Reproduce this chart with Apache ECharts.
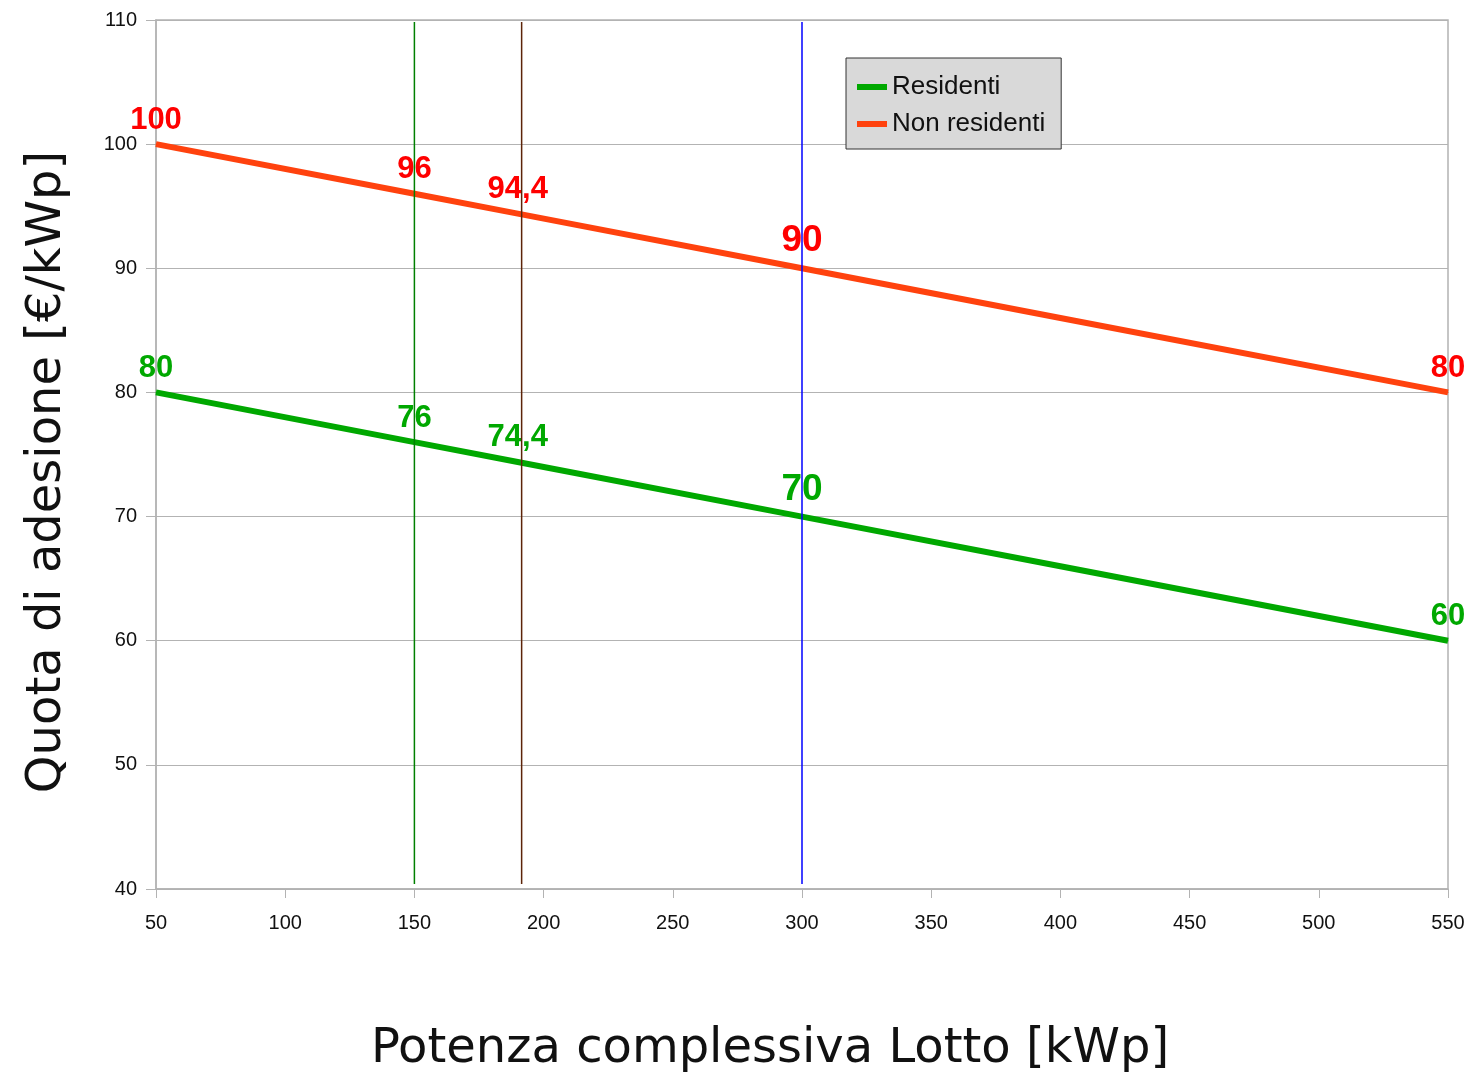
<!DOCTYPE html>
<html>
<head>
<meta charset="utf-8">
<script src="https://cdn.jsdelivr.net/npm/echarts@6/dist/echarts.min.js"></script>
<style>
  html, body { margin: 0; padding: 0; background: #fff; }
  #chart { width: 1470px; height: 1073px; }
</style>
</head>
<body>
<div id="chart"></div>
<script>
var potenza = [50, 150, 190, 300, 400, 550]
var residenti = [80, 76, 74.4, 70, 66, 60]
var nonResidenti = [100, 96, 94.4, 90, 86, 80]
// punti con etichetta (indice) e quelli evidenziati con font grande
var labelled = [0, 1, 2, 3, 5]
var big = [3]
// linee verticali di riferimento
var soglie = [150, 191.5, 300]
var sogliaColori = ['#008000', '#5c2408', '#0000ff']
var sogliaY = [40.4, 109.84]

var chart = echarts.init(document.getElementById('chart'))

function serie(values) {
  return values.map(function (v, i) {
    return {
      value: [potenza[i], v],
      label: {
        show: labelled.indexOf(i) >= 0,
        fontSize: big.indexOf(i) >= 0 ? 37 : 31
      }
    }
  })
}

function labelFmt(p) {
  return String(p.value[1]).replace('.', ',')
}

var series = [
  {
    name: 'Residenti',
    type: 'line',
    data: serie(residenti),
    symbol: 'circle',
    symbolSize: 1,
    showSymbol: true,
    lineStyle: { width: 6, color: '#00a800' },
    itemStyle: { color: '#00a800' },
    label: {
      position: 'top',
      distance: 8,
      color: '#00a800',
      fontWeight: 'bold',
      fontFamily: 'Liberation Sans',
      formatter: labelFmt
    },
    z: 5
  },
  {
    name: 'Non residenti',
    type: 'line',
    data: serie(nonResidenti),
    symbol: 'circle',
    symbolSize: 1,
    showSymbol: true,
    lineStyle: { width: 6, color: '#ff420e' },
    itemStyle: { color: '#ff420e' },
    label: {
      position: 'top',
      distance: 8,
      color: '#ff0000',
      fontWeight: 'bold',
      fontFamily: 'Liberation Sans',
      formatter: labelFmt
    },
    z: 5
  }
]

soglie.forEach(function (x, i) {
  series.push({
    type: 'line',
    data: [[x, sogliaY[0]], [x, sogliaY[1]]],
    symbol: 'none',
    silent: true,
    lineStyle: { width: 1.5, color: sogliaColori[i] },
    z: 6
  })
})

chart.setOption({
  animation: false,
  textStyle: { fontFamily: 'Liberation Sans' },
  grid: {
    left: 156, right: 22, top: 20, bottom: 184,
    show: true,
    borderColor: '#b3b3b3',
    borderWidth: 1.5,
    backgroundColor: 'transparent'
  },
  legend: {
    data: ['Residenti', 'Non residenti'],
    orient: 'vertical',
    left: 846,
    top: 58,
    padding: [16, 16, 12, 11],
    itemGap: 11,
    itemWidth: 30,
    itemHeight: 6,
    icon: 'rect',
    backgroundColor: '#d9d9d9',
    borderColor: '#333',
    borderWidth: 1,
    borderRadius: 0,
    textStyle: { fontSize: 26, color: '#111' }
  },
  xAxis: {
    type: 'value',
    min: 50,
    max: 550,
    interval: 50,
    axisLine: { show: true, lineStyle: { color: '#b3b3b3', width: 1.5 } },
    axisTick: { show: true, length: 9, lineStyle: { color: '#b3b3b3' } },
    axisLabel: { fontSize: 20, color: '#111', margin: 24 },
    splitLine: { show: false }
  },
  yAxis: {
    type: 'value',
    min: 40,
    max: 110,
    interval: 10,
    axisLine: { show: true, lineStyle: { color: '#b3b3b3', width: 1.5 } },
    axisTick: { show: true, length: 10, lineStyle: { color: '#b3b3b3' } },
    axisLabel: { fontSize: 20, color: '#111', margin: 19 },
    splitLine: { show: true, lineStyle: { color: '#b3b3b3' } }
  },
  graphic: [
    {
      type: 'text',
      x: 770, y: 1050,
      style: {
        text: 'Potenza complessiva Lotto [kWp]',
        x: 0, y: 0,
        font: '48px "DejaVu Sans"',
        fill: '#111',
        align: 'center',
        verticalAlign: 'middle'
      }
    },
    {
      type: 'text',
      x: 48, y: 472,
      rotation: Math.PI / 2,
      style: {
        text: 'Quota di adesione [€/kWp]',
        x: 0, y: 0,
        font: '48px "DejaVu Sans"',
        fill: '#111',
        align: 'center',
        verticalAlign: 'middle'
      }
    }
  ],
  series: series
})
</script>
</body>
</html>
